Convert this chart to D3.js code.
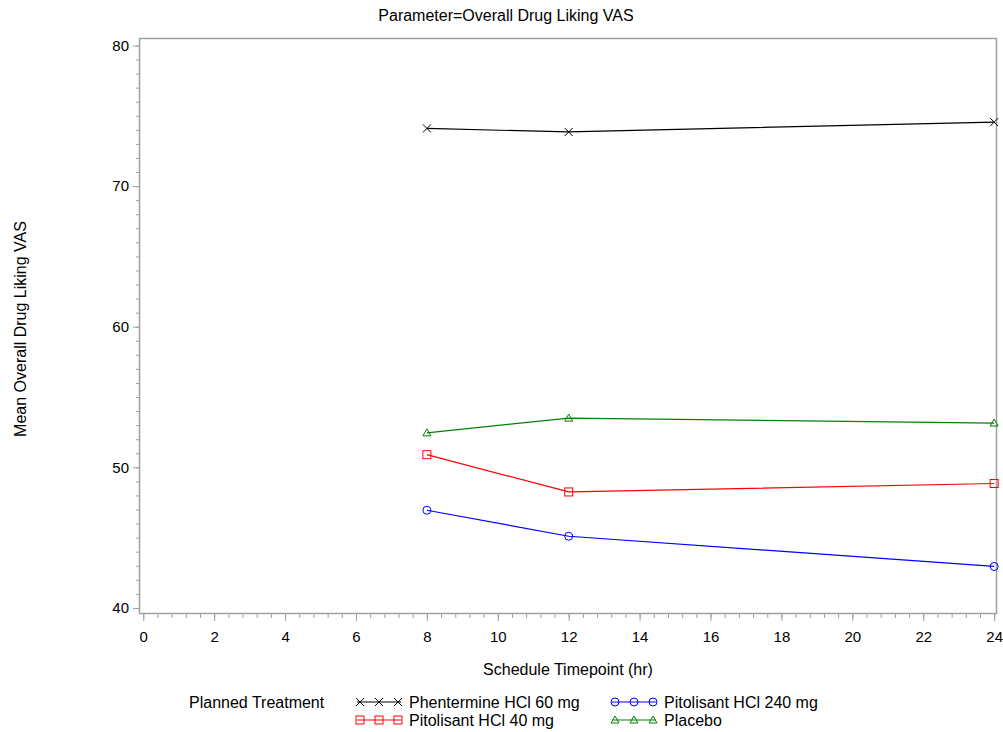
<!DOCTYPE html>
<html><head><meta charset="utf-8">
<script src="https://cdn.jsdelivr.net/npm/d3@7"></script>
<style>
body{margin:0;background:#fff;}
text{font-family:"Liberation Sans",Arial,sans-serif;fill:#000;}
</style></head>
<body><svg id="c" width="1003" height="732"></svg>
<script>
const timepoints = [8, 12, 24];
const seriesNames = ["Phentermine HCl 60 mg", "Pitolisant HCl 40 mg", "Pitolisant HCl 240 mg", "Placebo"];
const phentermine = [74.1, 73.85, 74.55];
const pitolisant40 = [50.9, 48.25, 48.85];
const pitolisant240 = [46.95, 45.1, 42.95];
const placebo = [52.45, 53.5, 53.15];
const xTicks = [0,2,4,6,8,10,12,14,16,18,20,22,24];
const yTicks = [40,50,60,70,80];

const series = [
  {name: seriesNames[0], values: phentermine, color: "#000000", sym: "x"},
  {name: seriesNames[1], values: pitolisant40, color: "#ff0000", sym: "square"},
  {name: seriesNames[2], values: pitolisant240, color: "#0000ff", sym: "circle"},
  {name: seriesNames[3], values: placebo, color: "#008000", sym: "triangle"}
];

const svg = d3.select("#c");
const L = 139, R = 997, T = 38, B = 614;
const x = d3.scaleLinear().domain([-0.12, 24.08]).range([L, R]);
const y = d3.scaleLinear().domain([39.57, 80.53]).range([B, T]);
const axisCol = "#a0a0a0";
const FONT = "Liberation Sans, Arial, sans-serif";

svg.append("text").attr("x", 506).attr("y", 21).attr("text-anchor","middle").attr("font-size", 16).text("Parameter=Overall Drug Liking VAS");

// frame
svg.append("rect").attr("x", L+0.5).attr("y", T+0.5).attr("width", R-L-1).attr("height", B-T-1)
  .attr("fill","none").attr("stroke", axisCol).attr("stroke-width",1.5);

// x axis
const xMinor = d3.range(0, 24.001, 0.4).map(v => +v.toFixed(2));
const gx = svg.append("g").attr("transform", `translate(0,${B})`);
gx.append("g").call(d3.axisBottom(x).tickValues(xMinor).tickSize(4).tickFormat(""))
  .call(g => g.select(".domain").remove()).selectAll("line").attr("stroke", axisCol);
gx.append("g").call(d3.axisBottom(x).tickValues(xTicks).tickSize(7).tickPadding(10).tickFormat(d3.format("d")))
  .call(g => g.select(".domain").remove())
  .call(g => g.selectAll("line").attr("stroke", axisCol))
  .call(g => g.selectAll("text").attr("font-size", 15).attr("font-family", FONT).attr("fill","#000"));

// y axis
const yMinor = d3.range(40, 80.001, 1);
const gy = svg.append("g").attr("transform", `translate(${L},0)`);
gy.append("g").call(d3.axisLeft(y).tickValues(yMinor).tickSize(3).tickFormat(""))
  .call(g => g.select(".domain").remove()).selectAll("line").attr("stroke", axisCol);
gy.append("g").call(d3.axisLeft(y).tickValues(yTicks).tickSize(6).tickPadding(4).tickFormat(d3.format("d")))
  .call(g => g.select(".domain").remove())
  .call(g => g.selectAll("line").attr("stroke", axisCol))
  .call(g => g.selectAll("text").attr("font-size", 15).attr("font-family", FONT).attr("fill","#000"));

svg.append("text").attr("x", (L+R)/2).attr("y", 675).attr("text-anchor","middle").attr("font-size",16).text("Schedule Timepoint (hr)");
svg.append("text").attr("transform", `translate(26,${(T+B)/2+3}) rotate(-90)`).attr("text-anchor","middle").attr("font-size",16).text("Mean Overall Drug Liking VAS");

function drawMarker(g, sym, cx, cy, color){
  const s = 4;
  if (sym === "x") {
    g.append("path").attr("d", `M${cx-s},${cy-s}L${cx+s},${cy+s}M${cx-s},${cy+s}L${cx+s},${cy-s}`).attr("stroke", color).attr("fill","none");
  } else if (sym === "square") {
    g.append("rect").attr("x", cx-s).attr("y", cy-s).attr("width", 2*s).attr("height", 2*s).attr("stroke", color).attr("fill","none");
  } else if (sym === "circle") {
    g.append("circle").attr("cx", cx).attr("cy", cy).attr("r", s).attr("stroke", color).attr("fill","none");
  } else {
    g.append("path").attr("d", `M${cx},${cy-s}L${cx+s},${cy+s-1}L${cx-s},${cy+s-1}Z`).attr("stroke", color).attr("fill","none");
  }
}

const line = d3.line().x((d,i) => x(timepoints[i])).y(d => y(d));
const plot = svg.append("g");
series.forEach(s => {
  plot.append("path").attr("d", line(s.values)).attr("fill","none").attr("stroke", s.color).attr("stroke-width",1.2);
  s.values.forEach((v,i) => drawMarker(plot, s.sym, x(timepoints[i]), y(v), s.color));
});

// legend
svg.append("text").attr("x", 189).attr("y", 707.5).attr("font-size",16).text("Planned Treatment");
const legPos = [[357,702,707.5],[357,720,726],[612,702,707.5],[612,720,726]];
series.forEach((s,k) => {
  const [lx, ly, ty] = legPos[k];
  const g = svg.append("g");
  g.append("line").attr("x1", lx).attr("x2", lx+44).attr("y1", ly).attr("y2", ly).attr("stroke", s.color);
  [lx+3, lx+22, lx+41].forEach(px => drawMarker(g, s.sym, px, ly, s.color));
  g.append("text").attr("x", lx+52).attr("y", ty).attr("font-size",16).text(s.name);
});
</script></body></html>
